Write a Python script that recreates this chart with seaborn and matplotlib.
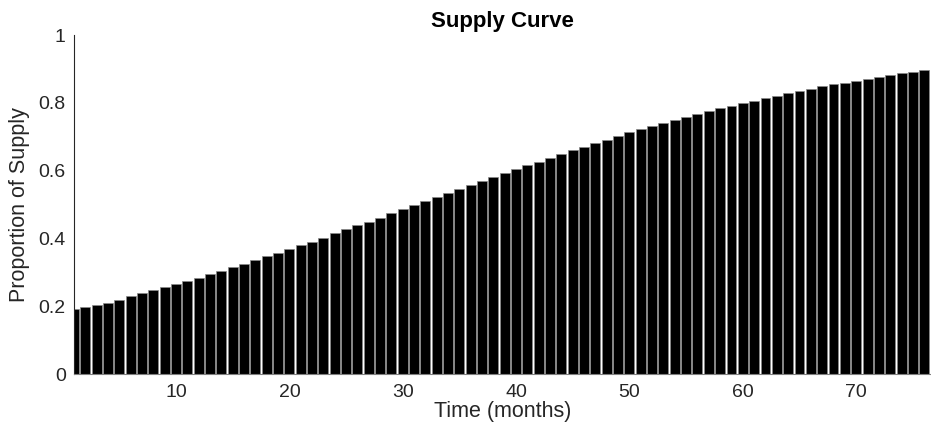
import numpy as np
import pandas as pd
import matplotlib
matplotlib.use("Agg")
import matplotlib.pyplot as plt
import seaborn as sns

# months on the x axis, proportion of supply
months = list(range(1, 77))
supply = [
    0.191, 0.197, 0.204, 0.211, 0.220, 0.229, 0.238, 0.247, 0.256, 0.265,
    0.274, 0.284, 0.294, 0.305, 0.315, 0.325, 0.336, 0.347, 0.358, 0.369,
    0.380, 0.391, 0.403, 0.415, 0.427, 0.439, 0.450, 0.462, 0.474, 0.486,
    0.498, 0.510, 0.522, 0.534, 0.546, 0.558, 0.570, 0.582, 0.593, 0.605,
    0.616, 0.627, 0.638, 0.649, 0.660, 0.671, 0.682, 0.692, 0.702, 0.713,
    0.722, 0.732, 0.741, 0.750, 0.759, 0.768, 0.776, 0.784, 0.791, 0.800,
    0.807, 0.815, 0.822, 0.829, 0.836, 0.842, 0.849, 0.855, 0.860, 0.866,
    0.871, 0.876, 0.882, 0.887, 0.892, 0.897,
]
x_ticks = [10, 20, 30, 40, 50, 60, 70]
y_ticks = [0, 0.2, 0.4, 0.6, 0.8, 1]
y_tick_labels = ["0", "0.2", "0.4", "0.6", "0.8", "1"]

df = pd.DataFrame({"month": months, "supply": supply})

sns.set_style("white")
plt.rcParams["font.family"] = ["Liberation Sans", "DejaVu Sans"]
text_col = "#262626"

fig = plt.figure(figsize=(9.31, 4.29), dpi=100)
ax = fig.add_axes([0.0795, 0.128, 0.9205, 0.790])

sns.barplot(data=df, x="month", y="supply", native_scale=True, ax=ax,
            color="black", saturation=1, width=0.88, errorbar=None,
            edgecolor="#8a8a8a", linewidth=0.5)

ax.set_xlim(1.0, 76.6)
ax.set_ylim(0, 1)
ax.set_xticks(x_ticks)
ax.set_xticklabels([str(t) for t in x_ticks])
ax.set_yticks(y_ticks)
ax.set_yticklabels(y_tick_labels)

ax.tick_params(axis="both", direction="in", length=5, width=0.8,
               color=text_col, labelcolor=text_col, labelsize=14)
ax.tick_params(axis="x", pad=7)
ax.tick_params(axis="y", pad=6)

for side in ["top", "right"]:
    ax.spines[side].set_visible(False)
ax.spines["left"].set_color(text_col)
ax.spines["bottom"].set_color("#808080")
ax.spines["left"].set_linewidth(0.8)
ax.spines["bottom"].set_linewidth(0.8)

ax.set_xlabel("Time (months)", fontsize=15.5, color=text_col, labelpad=0)
ax.set_ylabel("Proportion of Supply", fontsize=15.5, color=text_col, labelpad=6)
ax.set_title("Supply Curve", fontsize=16, fontweight="bold", color="black", pad=6)

fig.savefig("out.png", dpi=100)
